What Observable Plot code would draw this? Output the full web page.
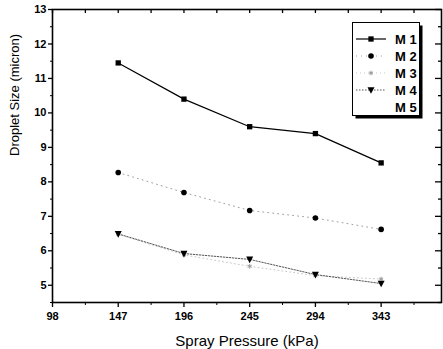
<!DOCTYPE html>
<html>
<head>
<meta charset="utf-8">
<script src="https://cdn.jsdelivr.net/npm/d3@7"></script>
<script src="https://cdn.jsdelivr.net/npm/@observablehq/plot@0.6"></script>
<style>
  html, body { margin: 0; padding: 0; background: #fff; }
  #wrap { position: relative; width: 443px; height: 349px; }
  #legend { position: absolute; left: 352px; top: 22px; }
</style>
</head>
<body>
<div id="wrap"></div>
<script>
// ---- data ----
const pressure = [147, 196, 245, 294, 343];
const seriesNames = ["M 1", "M 2", "M 3", "M 4", "M 5"];
const M1 = [11.45, 10.4, 9.6, 9.4, 8.55];
const M2 = [8.27, 7.69, 7.17, 6.95, 6.62];
const M3 = [6.48, 5.88, 5.55, 5.28, 5.18];
const M4 = [6.49, 5.92, 5.75, 5.31, 5.05];
const M5 = [];
const xTickLabels = [98, 147, 196, 245, 294, 343];
const xMinorTicks = [122.5, 171.5, 220.5, 269.5, 318.5, 367.5];
const yTickLabels = [5, 6, 7, 8, 9, 10, 11, 12, 13];
const yMinorTicks = [4.5, 5.5, 6.5, 7.5, 8.5, 9.5, 10.5, 11.5, 12.5];

const values = [M1, M2, M3, M4, M5];
const rows = [];
values.forEach((arr, i) => arr.forEach((v, j) => rows.push({series: seriesNames[i], p: pressure[j], v})));
const sel = s => rows.filter(d => d.series === s);

const triangleDown = {
  draw(ctx, size) {
    const h = Math.sqrt(size);
    ctx.moveTo(-h * 0.55, -h * 0.45);
    ctx.lineTo(h * 0.55, -h * 0.45);
    ctx.lineTo(0, h * 0.6);
    ctx.closePath();
  }
};

const styles = {
  "M 1": {stroke: "#000", dash: null, width: 1.2, symbol: "square", fill: "#000", r: 3},
  "M 2": {stroke: "#a0a0a0", dash: "1,4", width: 1, symbol: "circle", fill: "#000", r: 2.8},
  "M 3": {stroke: "#c8c8c8", dash: "1,3", width: 1, symbol: "asterisk", fill: "none", r: 2.2, mstroke: "#999"},
  "M 4": {stroke: "#555", dash: "1.5,1.5", width: 1, symbol: triangleDown, fill: "#000", r: 3.6},
  "M 5": {stroke: "none", dash: null, width: 1, symbol: "circle", fill: "none", r: 0}
};

const fontFam = "'Liberation Sans', Arial, Helvetica, sans-serif";
const plotW = 443 - 52 - 2;
const plotH = 349 - 9 - 47;

const seriesMarks = [];
seriesNames.forEach(s => {
  const st = styles[s];
  const data = sel(s);
  if (!data.length) return;
  seriesMarks.push(Plot.line(data, {x: "p", y: "v", stroke: st.stroke, strokeWidth: st.width, strokeDasharray: st.dash}));
});
seriesNames.forEach(s => {
  const st = styles[s];
  const data = sel(s);
  if (!data.length) return;
  if (st.fill === "none") {
    seriesMarks.push(Plot.dot(data, {x: "p", y: "v", symbol: st.symbol, r: st.r, stroke: st.mstroke, strokeWidth: 1}));
  } else {
    seriesMarks.push(Plot.dot(data, {x: "p", y: "v", symbol: st.symbol, r: st.r, fill: st.fill, stroke: "none"}));
  }
});

const chart = Plot.plot({
  width: 443,
  height: 349,
  marginLeft: 52,
  marginRight: 2,
  marginTop: 9,
  marginBottom: 47,
  style: {fontFamily: fontFam, fontSize: "11px", color: "#000", background: "#fff"},
  x: {domain: [98, 388]},
  y: {domain: [4.5, 13]},
  marks: [
    // bottom axis
    Plot.axisX({ticks: xTickLabels, tickSize: 5, tickPadding: 5, tickFormat: d => String(d), fontWeight: "bold", fontSize: 11, label: null, strokeWidth: 1.3}),
    Plot.axisX({ticks: xMinorTicks, tickSize: 3, tickFormat: () => "", label: null}),
    // top axis ticks (inward)
    Plot.tickX(xTickLabels.concat(xMinorTicks), {insetBottom: plotH - 4, stroke: "#000", strokeWidth: 1.3}),
    // left axis
    Plot.axisY({ticks: yTickLabels, tickSize: 4, tickPadding: 2, tickFormat: d => String(d), fontWeight: "bold", fontSize: 11, label: null, strokeWidth: 1.3}),
    Plot.axisY({ticks: yMinorTicks, tickSize: 2, tickFormat: () => "", label: null}),
    // right axis ticks (inward)
    Plot.tickY(yTickLabels, {insetLeft: plotW - 6, stroke: "#000", strokeWidth: 1.3}),
    Plot.tickY(yMinorTicks, {insetLeft: plotW - 3, stroke: "#000", strokeWidth: 1.3}),
    Plot.frame({stroke: "#000", strokeWidth: 1.6}),
    ...seriesMarks,
    // axis titles
    Plot.text(["Spray Pressure (kPa)"], {frameAnchor: "bottom", dy: 39, fontSize: 15, lineAnchor: "middle", fill: "#000"}),
    Plot.text(["Droplet Size (micron)"], {frameAnchor: "left", dx: -38, rotate: -90, fontSize: 13, lineAnchor: "middle", fill: "#000"})
  ]
});

const wrap = document.getElementById("wrap");
wrap.appendChild(chart);

// ---- legend (inside plot area) ----
const lw = 67, lh = 93, sh = 3;
const legend = d3.create("svg")
  .attr("id", "legend")
  .attr("width", lw + sh + 1)
  .attr("height", lh + sh + 1)
  .style("font-family", fontFam);
legend.append("rect").attr("x", sh + 0.5).attr("y", sh + 0.5).attr("width", lw).attr("height", lh).attr("fill", "#000");
legend.append("rect").attr("x", 0.5).attr("y", 0.5).attr("width", lw).attr("height", lh).attr("fill", "#fff").attr("stroke", "#000").attr("stroke-width", 1);
seriesNames.forEach((s, i) => {
  const st = styles[s];
  const cy = 17 + i * 17;
  if (st.stroke !== "none") {
    legend.append("line").attr("x1", 4).attr("x2", 34).attr("y1", cy).attr("y2", cy)
      .attr("stroke", st.stroke).attr("stroke-width", st.width).attr("stroke-dasharray", st.dash);
  }
  if (st.r > 0) {
    const sym = typeof st.symbol === "string"
      ? ({square: d3.symbolSquare, circle: d3.symbolCircle, asterisk: d3.symbolAsterisk})[st.symbol]
      : st.symbol;
    const path = d3.symbol(sym, Math.PI * st.r * st.r)();
    const g = legend.append("path").attr("d", path).attr("transform", `translate(19,${cy})`);
    if (st.fill === "none") g.attr("fill", "none").attr("stroke", st.mstroke).attr("stroke-width", 1);
    else g.attr("fill", st.fill);
  }
  legend.append("text").attr("x", 43).attr("y", cy).attr("dy", "0.36em")
    .attr("font-size", 13).attr("font-weight", "bold").attr("fill", "#000").text(s);
});
wrap.appendChild(legend.node());
</script>
</body>
</html>
